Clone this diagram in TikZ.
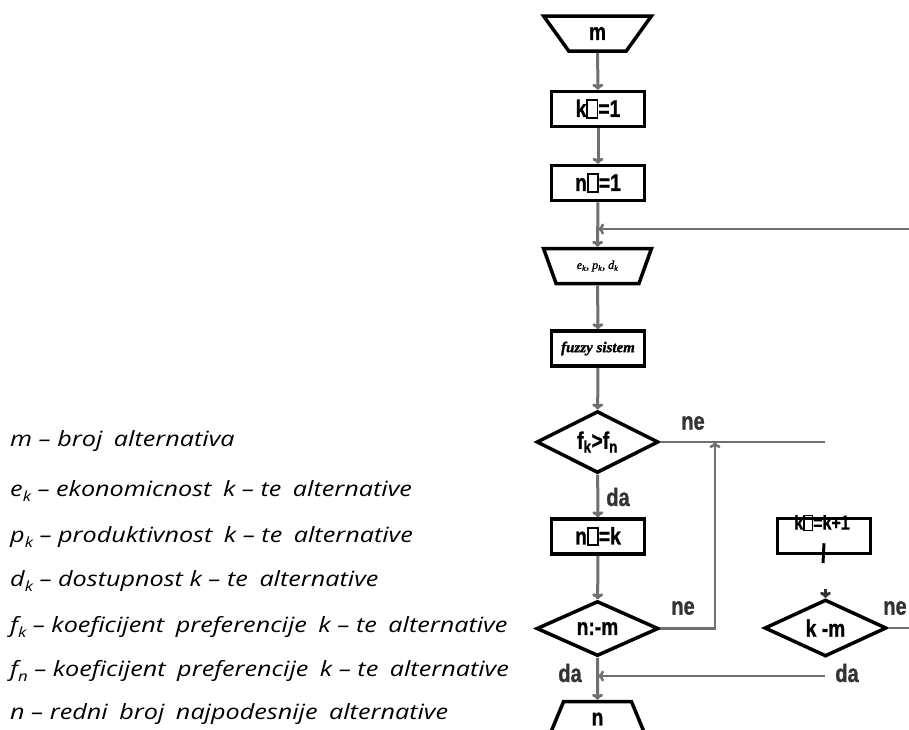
\documentclass[tikz,border=0pt]{standalone}
\usepackage{fontspec}
\setmainfont{Liberation Sans}
\newfontfamily\flowfont[FakeStretch=0.8,FakeBold=1]{Liberation Sans}
\newfontfamily\legendfont[FakeStretch=1.2]{Open Sans}
\newfontfamily\smallserif[FakeBold=1.5]{Liberation Serif}
\usetikzlibrary{shapes.geometric,arrows.meta}

\definecolor{linegray}{RGB}{112,112,112}

% missing glyph box as printed in the labels
\newcommand{\tofu}{{\setlength{\fboxsep}{0pt}\setlength{\fboxrule}{0.07em}\fbox{\rule{0pt}{0.66em}\hspace{0.36em}}}}
\newcommand{\idx}[1]{\raisebox{-0.45ex}{\fontsize{14}{14}\selectfont #1}}
\newcommand{\gap}{\hspace{0.55em}}

\tikzset{
  procbox/.style={draw,line width=3.5pt,minimum width=93pt,minimum height=35pt,inner sep=0pt,
    font=\flowfont\bfseries\fontsize{24}{24}\selectfont},
  inbox/.style={trapezium,trapezium stretches=true,shape border rotate=180,trapezium angle=60,
    draw,line width=3.5pt,minimum width=108pt,minimum height=35pt,inner sep=0pt},
  outbox/.style={trapezium,trapezium stretches=true,trapezium angle=79,
    draw,line width=3.5pt,minimum width=97pt,minimum height=35pt,inner sep=0pt,
    font=\flowfont\bfseries\fontsize{24}{24}\selectfont},
  decide/.style={diamond,draw,line width=3.5pt,minimum width=122pt,minimum height=55pt,inner sep=0pt,
    font=\flowfont\bfseries\fontsize{24}{24}\selectfont},
  flow/.style={draw=linegray,line width=3pt,-{To[length=6pt,width=11pt]}},
  wire/.style={draw=linegray,line width=2.5pt},
  answer/.style={font=\flowfont\bfseries\fontsize{25}{25}\selectfont,text=black!80,inner sep=0pt},
  legend/.style={anchor=west,inner sep=0pt,font=\legendfont\itshape\fontsize{21}{21}\selectfont}
}

\begin{document}
\begin{tikzpicture}[x=1pt,y=-1pt]
\useasboundingbox[fill=white] (0,0) rectangle (909,729);

% legend
\node[legend] (lm) at (10,441) {m – broj\gap alternativa};
\node[legend] (le) at (10,491) {e\idx{k} – ekonomicnost\gap k – te\gap alternative};
\node[legend] (lp) at (10,537) {p\idx{k} – produktivnost\gap k – te\gap alternative};
\node[legend] (ld) at (10,581) {d\idx{k} – dostupnost k – te\gap alternative};
\node[legend] (lfk) at (10,627) {f\idx{k} – koeficijent\gap preferencije\gap k – te\gap alternative};
\node[legend] (lfn) at (10,671) {f\idx{n} – koeficijent\gap preferencije\gap k – te\gap alternative};
\node[legend] (ln) at (10,714) {n – redni\gap broj\gap najpodesnije\gap alternative};

% main column
\node[inbox,font=\flowfont\bfseries\fontsize{24}{24}\selectfont] (inm) at (597.5,33.5) {m};
\node[procbox] (kinit) at (598,109) {k\tofu=1};
\node[procbox] (ninit) at (598,183) {n\tofu=1};
\node[inbox,font=\smallserif\itshape\fontsize{12}{12}\selectfont] (inedp) at (597.5,266)
  {e\textsubscript{k}, p\textsubscript{k}, d\textsubscript{k}};
\node[procbox,font=\smallserif\bfseries\itshape\fontsize{15}{15}\selectfont] (fuzzy) at (598,348.5) {fuzzy sistem};
\node[decide] (cmpf) at (597.5,442) {f\textsubscript{k}>f\textsubscript{n}};
\node[procbox] (nset) at (598,536.5) {n\tofu=k};
\node[decide] (cmpm) at (597.5,628.5) {n:-m};
\node[outbox] (outn) at (597.5,719) {n};

% right column
\node[procbox] (kplus) at (824,536) {};
\node[font=\flowfont\bfseries\fontsize{20}{20}\selectfont,inner sep=0pt] (kplustxt) at (822,523) {k\tofu=k+1};
\node[decide] (cmpk) at (825.5,628) {k -m};

\coordinate (loopjoin) at (598,229);
\coordinate (loopin) at (912,229);
\coordinate (neend) at (825,442);
\coordinate (upjoin) at (715,442);
\coordinate (dajoin) at (598,676);
\coordinate (dastart) at (825,676);
\coordinate (ktick) at (823,563);
\coordinate (kstub) at (825.5,589);
\coordinate (kneend) at (912,628);

\draw[flow] (inm) -- (kinit);
\draw[flow] (kinit) -- (ninit);
\draw[flow] (ninit) -- (inedp);
\draw[flow,line width=2.5pt] (loopin) -- (loopjoin);
\draw[flow] (inedp) -- (fuzzy);
\draw[flow] (fuzzy) -- (cmpf);
\draw[wire] (cmpf.east) -- (neend);
\draw[flow] (cmpf) -- (nset);
\draw[flow] (nset) -- (cmpm);
\draw[flow,line width=2.5pt] (cmpm.east) -| (upjoin);
\draw[flow] (cmpm) -- (outn);
\draw[flow,line width=2.5pt] (dastart) -- (dajoin);
\draw[line width=3pt] (kplus.south) ++(0,-12) -- (ktick);
\draw[flow,draw=black!80] (kstub) -- (cmpk);
\draw[wire] (cmpk.east) -- (kneend);

% branch labels
\node[answer] (ne1) at (693,423) {ne};
\node[answer] (da1) at (618,497) {da};
\node[answer] (ne2) at (683,608) {ne};
\node[answer] (da2) at (570,673) {da};
\node[answer] (da3) at (847,673) {da};
\node[answer] (ne3) at (895,608) {ne};
\end{tikzpicture}
\end{document}
